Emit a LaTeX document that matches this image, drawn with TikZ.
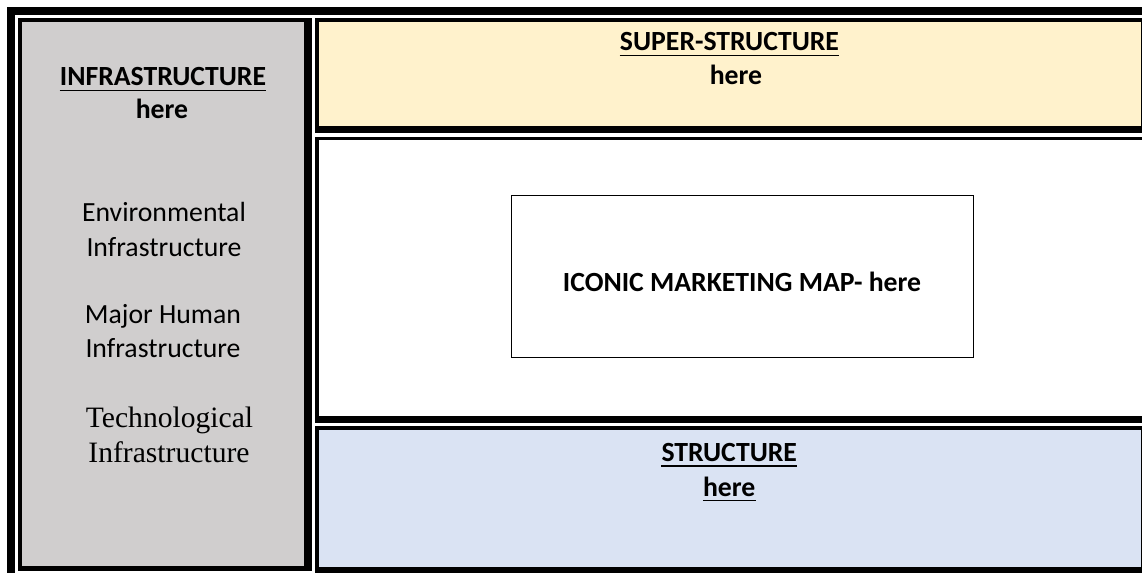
\documentclass[tikz,border=0pt]{standalone}
\usepackage{fontspec}
\setmainfont{Carlito}
\newfontfamily\timesf{Liberation Serif}
\definecolor{grayfill}{HTML}{D0CECE}
\definecolor{yellowfill}{HTML}{FFF2CC}
\definecolor{bluefill}{HTML}{DAE3F3}
\tikzset{
  lbl/.style={inner sep=0pt, anchor=base, font=\fontsize{20.8}{25}\selectfont},
  head/.style={lbl, font=\fontsize{20.8}{25}\selectfont\bfseries},
  serif/.style={inner sep=0pt, anchor=base, font=\fontsize{22.2}{26}\selectfont\timesf},
  uline/.style={line width=1.1pt},
  mapbox/.style={draw=black, line width=0.9pt, fill=white, inner sep=0pt}
}
\begin{document}
\begin{tikzpicture}[x=0.75pt,y=-0.75pt]
\useasboundingbox (0,0) rectangle (1142,573);
\fill[white] (0,0) rectangle (1142,573);
% outer frame
\fill[black] (7,7) rectangle (1142,15);
\fill[black] (7,7) rectangle (15,573);
% infrastructure column
\fill[black] (18,18) rectangle (312,571);
\fill[grayfill] (22,22) rectangle (304,566);
% super-structure
\fill[black] (315,18) rectangle (1142,133);
\fill[yellowfill] (319,22) rectangle (1141,126);
% middle
\fill[black] (315,137) rectangle (1142,423);
\fill[white] (319,140) rectangle (1142,416);
% structure
\fill[black] (315,426) rectangle (1142,573);
\fill[bluefill] (319,430) rectangle (1141,567);
% iconic box
\node[mapbox, minimum width=347pt, minimum height=121.5pt] (map) at (742.5,276.7) {};
\node[head] (maptext) at (742,292) {ICONIC MARKETING MAP- here};
% infrastructure texts
\node[head] (inf1) at (163,86) {INFRASTRUCTURE};
\node[head] (inf2) at (162,119) {here};
\node[lbl] (env1) at (164,222) {Environmental};
\node[lbl] (env2) at (164,257) {Infrastructure};
\node[lbl] (maj1) at (163,324) {Major Human};
\node[lbl] (maj2) at (163,358) {Infrastructure};
\node[serif] (tech1) at (169.5,427) {Technological};
\node[serif] (tech2) at (169,462) {Infrastructure};
% super-structure texts
\node[head] (sup1) at (729.5,51) {SUPER-STRUCTURE};
\node[head] (sup2) at (736,85) {here};
% structure texts
\node[head] (str1) at (729.3,461) {STRUCTURE};
\node[head] (str2) at (729.2,496) {here};
% underlines
\draw[uline] ([yshift=-3.4pt]inf1.base west) -- ([yshift=-3.4pt]inf1.base east);
\draw[uline] ([yshift=-3.4pt]sup1.base west) -- ([yshift=-3.4pt]sup1.base east);
\draw[uline] ([yshift=-3.6pt]str1.base west) -- ([yshift=-3.6pt]str1.base east);
\draw[uline] ([yshift=-3.4pt]str2.base west) -- ([yshift=-3.4pt]str2.base east);
\end{tikzpicture}
\end{document}
